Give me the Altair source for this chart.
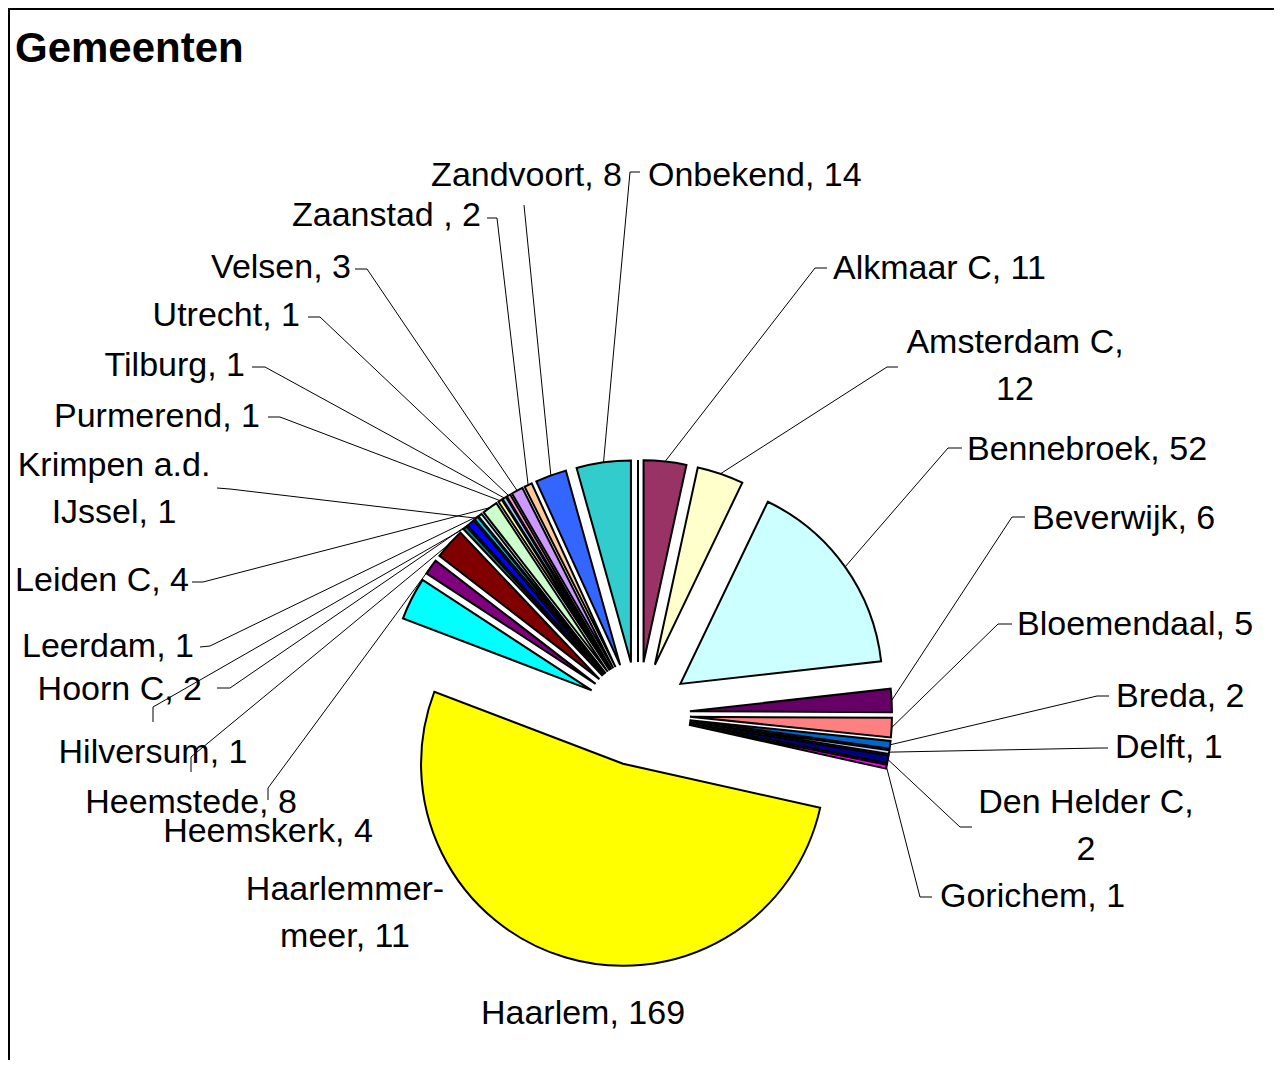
import altair as alt
import pandas as pd

# ---------------- data ----------------
names = ["", "Alkmaar C", "Amsterdam C", "Bennebroek", "Beverwijk", "Bloemendaal",
         "Breda", "Delft", "Den Helder C", "Gorichem", "Haarlem", "Haarlemmermeer",
         "Heemskerk", "Heemstede", "Hilversum", "Hoorn C", "Krimpen a.d. IJssel",
         "Leerdam", "Leiden C", "Purmerend", "Tilburg", "Utrecht", "Velsen",
         "Zaanstad", "Zandvoort", "Onbekend"]
values = [0, 11, 12, 52, 6, 5, 2, 1, 2, 1, 169, 11, 4, 8, 1, 2, 1, 1, 4, 1, 1, 1, 3, 2, 8, 14]
label_texts = ["", "Alkmaar C, 11", "Amsterdam C,\n12", "Bennebroek, 52", "Beverwijk, 6",
               "Bloemendaal, 5", "Breda, 2", "Delft, 1", "Den Helder C,\n2", "Gorichem, 1",
               "Haarlem, 169", "Haarlemmer-\nmeer, 11", "Heemskerk, 4", "Heemstede, 8",
               "Hilversum, 1", "Hoorn C, 2", "Krimpen a.d.\nIJssel, 1", "Leerdam, 1",
               "Leiden C, 4", "Purmerend, 1", "Tilburg, 1", "Utrecht, 1", "Velsen, 3",
               "Zaanstad , 2", "Zandvoort, 8", "Onbekend, 14"]
colors = ["#9999FF", "#993366", "#FFFFCC", "#CCFFFF", "#660066", "#FF8080", "#0066CC",
          "#CCCCFF", "#000080", "#FF00FF", "#FFFF00", "#00FFFF", "#800080", "#800000",
          "#008080", "#0000FF", "#00CCFF", "#CCFFFF", "#CCFFCC", "#FFFF99", "#99CCFF",
          "#FF99CC", "#CC99FF", "#FFCC99", "#3366FF", "#33CCCC"]

# ---------------- layout (page pixels) ----------------
OFF = 10
label_x = [0, 833, 1015, 967, 1032, 1017, 1116, 1115, 1086, 940, 583, 345, 268, 191, 153,
           202, 114, 194, 189, 260, 245, 300, 351, 481, 622, 648]
label_y = [0, 269, 343, 450, 519, 625, 697, 748, 803, 897, 1014, 890, 832, 803, 753,
           690, 466, 647, 581, 417, 366, 316, 268, 216, 176, 176]
label_align = ["none", "left", "center", "left", "left", "left", "left", "left", "center",
               "left", "center", "center", "center", "center", "center", "right", "center",
               "right", "right", "right", "right", "right", "right", "right", "right", "left"]
attach_x = [0, 827, 898, 962, 1025, 1012, 1109, 1108, 972, 932, 0, 0, 268, 191, 153,
            217, 217, 200, 192, 268, 252, 308, 355, 487, 524, 640]
attach_y = [0, 268, 367, 448, 517, 624, 696, 748, 827, 897, 0, 0, 800, 772, 722,
            688, 488, 647, 582, 417, 367, 317, 269, 218, 205, 172]
stub_x = [0, 815, 887, 948, 1012, 998, 1097, 1100, 960, 920, 0, 0, 268, 191, 153,
          230, 230, 210, 203, 280, 265, 320, 367, 497, 524, 630]
stub_y = [0, 268, 367, 448, 517, 624, 696, 748, 827, 897, 0, 0, 788, 757, 707,
          688, 489, 646, 582, 417, 367, 317, 269, 218, 205, 172]
has_leader = [0, 1, 1, 1, 1, 1, 1, 1, 1, 1, 0, 0, 1, 1, 1, 1, 1, 1, 1, 1, 1, 1, 1, 1, 1, 1]

CX, CY = 638 - OFF, 714 - OFF   # pie centre (view px)
R = 202                         # radius
D = 52                          # explode distance

df = pd.DataFrame({
    "order": list(range(len(names))),
    "name": names,
    "value": values,
    "label": label_texts,
    "fillc": colors,
    "lx": [v - OFF for v in label_x],
    "ly": [v - OFF for v in label_y],
    "align": label_align,
    "ax": [v - OFF for v in attach_x],
    "ay": [v - OFF for v in attach_y],
    "sx": [v - OFF for v in stub_x],
    "sy": [v - OFF for v in stub_y],
    "lead": has_leader,
})

base = (
    alt.Chart(df)
    .transform_joinaggregate(total="sum(value)")
    .transform_window(cum="sum(value)", sort=[alt.SortField("order")])
    .transform_calculate(
        a1="2*PI*datum.cum/datum.total",
        a0="2*PI*(datum.cum-datum.value)/datum.total",
    )
    .transform_calculate(mid="(datum.a0+datum.a1)/2")
    .transform_calculate(
        cx=f"{CX}+{D}*sin(datum.mid)",
        cy=f"{CY}-{D}*cos(datum.mid)",
    )
    .transform_calculate(
        ex=f"datum.cx+{R}*sin(datum.mid)",
        ey=f"datum.cy-{R}*cos(datum.mid)",
    )
)

arcs = base.mark_arc(radius=R, stroke="black", strokeWidth=2).encode(
    x=alt.X("cx:Q", scale=None),
    y=alt.Y("cy:Q", scale=None),
    theta=alt.Theta("a0:Q", scale=None),
    theta2="a1:Q",
    fill=alt.Fill("fillc:N", scale=None),
)

lead1 = base.transform_filter("datum.lead == 1").mark_rule(color="black", strokeWidth=1).encode(
    x=alt.X("ax:Q", scale=None), y=alt.Y("ay:Q", scale=None), x2="sx:Q", y2="sy:Q"
)
lead2 = base.transform_filter("datum.lead == 1").mark_rule(color="black", strokeWidth=1).encode(
    x=alt.X("sx:Q", scale=None), y=alt.Y("sy:Q", scale=None), x2="ex:Q", y2="ey:Q"
)

def texts(al):
    return base.transform_filter(f"datum.align == '{al}'").mark_text(
        align=al, baseline="middle", font="Liberation Sans", fontSize=34,
        lineBreak="\n", lineHeight=47, color="black"
    ).encode(
        x=alt.X("lx:Q", scale=None), y=alt.Y("ly:Q", scale=None), text="label:N"
    )

title_df = pd.DataFrame({"t": ["Gemeenten"]})
title = alt.Chart(title_df).mark_text(
    align="left", baseline="alphabetic", font="Liberation Sans", fontWeight="bold",
    fontSize=42, color="black"
).encode(x=alt.value(15 - OFF), y=alt.value(62 - OFF), text="t:N")

border_df = pd.DataFrame({"b": [0]})
border_left = alt.Chart(border_df).mark_rule(color="black", strokeWidth=2).encode(
    x=alt.value(-1), y=alt.value(-2), y2=alt.value(1100)
)
border_top = alt.Chart(border_df).mark_rule(color="black", strokeWidth=2).encode(
    y=alt.value(-1), x=alt.value(-2), x2=alt.value(1300)
)

chart = alt.layer(
    border_left, border_top, arcs, lead1, lead2,
    texts("left"), texts("right"), texts("center"), title
).properties(
    width=1264, height=1050,
    padding={"left": 2, "top": 2, "right": 0, "bottom": 0},
    autosize=alt.AutoSizeParams(type="none"),
    background="white",
).configure_view(stroke=None)

chart.save("out.html", embed_options={"renderer": "svg", "actions": False})
